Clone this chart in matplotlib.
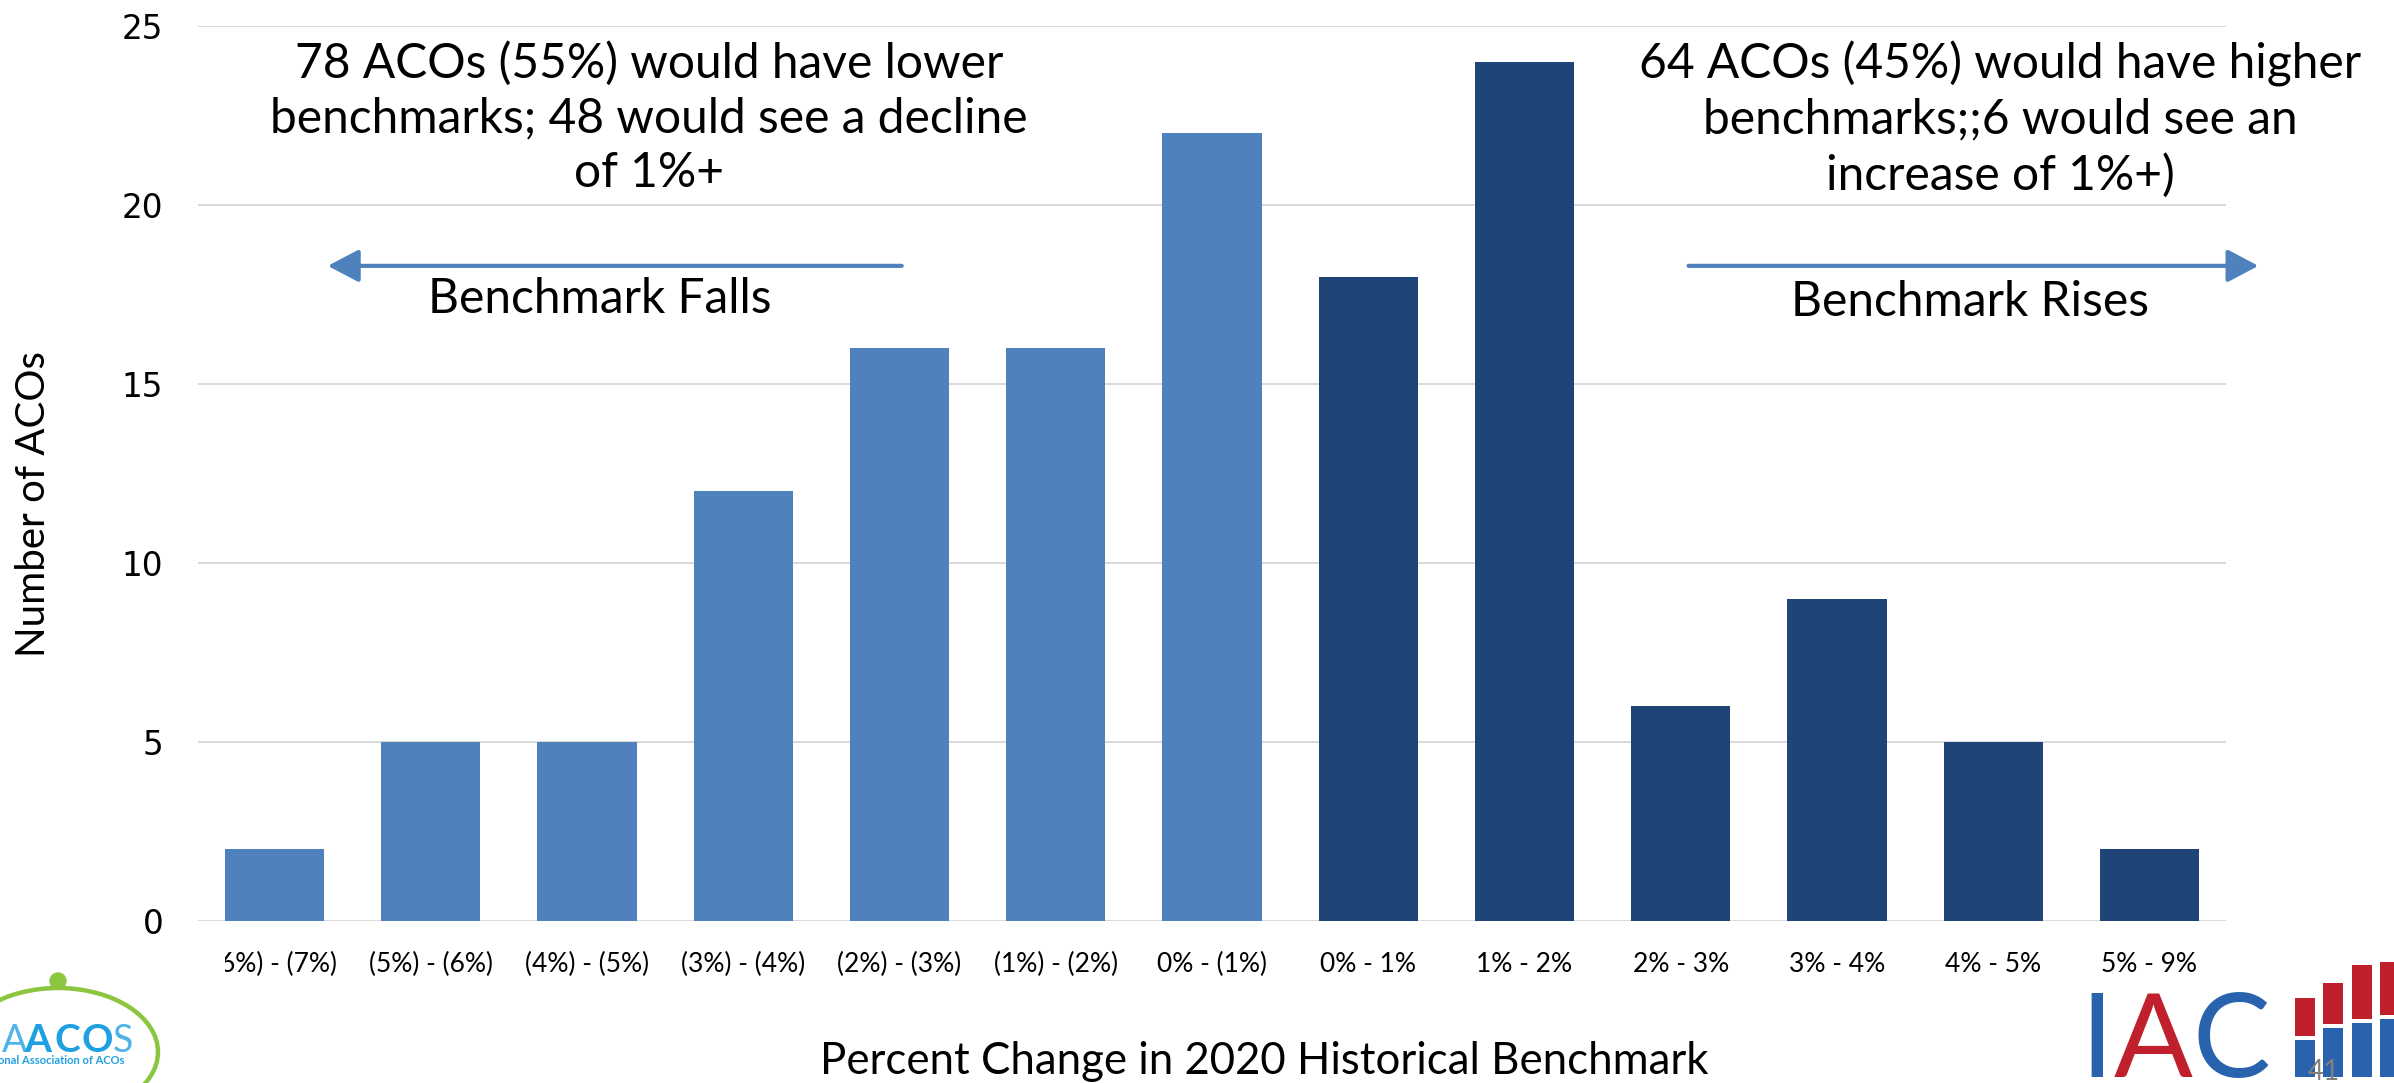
import numpy as np
import matplotlib
matplotlib.use("Agg")
import matplotlib.pyplot as plt
from matplotlib.patches import Ellipse, Circle, Rectangle
from matplotlib.transforms import Bbox, TransformedBbox

# data
categories = ["(6%) - (7%)", "(5%) - (6%)", "(4%) - (5%)", "(3%) - (4%)",
              "(2%) - (3%)", "(1%) - (2%)", "0% - (1%)", "0% - 1%",
              "1% - 2%", "2% - 3%", "3% - 4%", "4% - 5%", "5% - 9%"]
counts = [2, 5, 5, 12, 16, 16, 22, 18, 24, 6, 9, 5, 2]
n_lower = 7  # first 7 bins are benchmark declines
y_ticks = [0, 5, 10, 15, 20, 25]

note_lower = "78 ACOs (55%) would have lower\nbenchmarks; 48 would see a decline\nof 1%+"
note_higher = "64 ACOs (45%) would have higher\nbenchmarks;;6 would see an\nincrease of 1%+)"
label_falls = "Benchmark Falls"
label_rises = "Benchmark Rises"
x_title = "Percent Change in 2020 Historical Benchmark"
y_title = "Number of ACOs"

LIGHT = "#4F81BD"
DARK = "#1F4478"
FONT = ["Lato", "DejaVu Sans"]

W, H = 2394, 1083
fig = plt.figure(figsize=(W / 100, H / 100), dpi=100)
ax = fig.add_axes([198 / W, 1 - 921 / H, (2226 - 198) / W, (921 - 26) / H])

x = np.arange(len(categories))
colors = [LIGHT if i < n_lower else DARK for i in range(len(categories))]
ax.bar(x, counts, width=0.635, color=colors, zorder=2)

ax.set_xlim(-0.49, len(categories) - 0.51)
ax.set_ylim(0, 25)
ax.set_yticks(y_ticks)
ax.set_yticklabels([str(t) for t in y_ticks], family="DejaVu Sans", fontsize=23.5)
ax.set_xticks(x)
ax.set_xticklabels(categories, family=FONT, fontsize=19)
ax.tick_params(axis="both", length=0)
ax.tick_params(axis="x", pad=22)
ax.tick_params(axis="y", pad=25)
ax.yaxis.grid(True, color="#D9D9D9", lw=1.4)
ax.set_axisbelow(True)
for s in ax.spines.values():
    s.set_visible(False)

# first label is clipped on the left in the original slide
lab0 = ax.xaxis.get_major_ticks()[0].label1
lab0.set_clip_on(True)
lab0.set_clip_box(TransformedBbox(Bbox.from_extents(225 / W, 0, 1, 1), fig.transFigure))

# annotations
ax.text(0.2224, 0.897, note_lower, transform=ax.transAxes, ha="center", va="center",
        family=FONT, fontsize=34.5, linespacing=1.3)
ax.text(0.8886, 0.896, note_higher, transform=ax.transAxes, ha="center", va="center",
        family=FONT, fontsize=34.5, linespacing=1.3, clip_on=False)
ax.text(0.198, 0.695, label_falls, transform=ax.transAxes, ha="center", va="center",
        family=FONT, fontsize=34.5)
ax.text(0.874, 0.692, label_rises, transform=ax.transAxes, ha="center", va="center",
        family=FONT, fontsize=34.5)
arrow = dict(arrowstyle="-|>,head_length=0.95,head_width=0.5", color=LIGHT, lw=3,
             mutation_scale=20, shrinkA=0, shrinkB=0)
ax.annotate("", xy=(0.064, 0.732), xytext=(0.347, 0.732), xycoords="axes fraction",
            arrowprops=arrow, annotation_clip=False)
ax.annotate("", xy=(1.016, 0.732), xytext=(0.735, 0.732), xycoords="axes fraction",
            arrowprops=arrow, annotation_clip=False)

fig.text(1264 / W, 1 - 1061 / H, x_title, ha="center", va="center", family=FONT, fontsize=31.5)
fig.text(34 / W, 1 - 504 / H, y_title, ha="center", va="center", rotation=90,
         family=FONT, fontsize=29)

# overlay in pixel coords for the slide logos
ov = fig.add_axes([0, 0, 1, 1], zorder=-1)
ov.set_xlim(0, W)
ov.set_ylim(H, 0)
ov.axis("off")

# NAACOS logo (bottom left, cropped)
green = "#8CC63F"
ov.add_patch(Ellipse((58, 1052), 200, 128, fill=False, ec=green, lw=3.2))
ov.add_patch(Circle((58, 981), 8, color=green))
ov.text(2, 1052, "A", color="#4FB3E8", fontsize=27, family=FONT,
        va="baseline", ha="left")
for ch, cx in [("A", 38), ("C", 67), ("O", 97)]:
    ov.text(cx, 1052, ch, color="#1FA0E0", fontsize=28, family=FONT, fontweight="bold",
            va="baseline", ha="center")
ov.text(113, 1052, "S", color="#4FB3E8", fontsize=27, family=FONT,
        va="baseline", ha="left")
ov.text(-2, 1064, "onal Association of ACOs", color="#1FA0E0", fontsize=8, family=FONT,
        fontweight="bold", va="baseline", ha="left")

# IAC logo (bottom right)
blue_l, red_l = "#2A63AD", "#C0202B"
ov.text(2097, 1077, "I", color=blue_l, fontsize=84, family=FONT,
        ha="center", va="baseline")
ov.text(2153, 1077, "A", color=red_l, fontsize=84, family=FONT,
        ha="center", va="baseline")
ov.text(2231, 1077, "C", color=blue_l, fontsize=84, family=FONT,
        ha="center", va="baseline")
for x0, top, mid in [(2295, 998, 1036), (2323, 983, 1024), (2352, 965, 1019), (2380, 962, 1015)]:
    ov.add_patch(Rectangle((x0, top), 20, mid - top, color=red_l, lw=0))
    ov.add_patch(Rectangle((x0, mid + 4), 20, 1077 - mid - 4, color=blue_l, lw=0))
ov.text(2324, 1080, "41", color="#808080", fontsize=20, family=FONT, ha="center",
        va="baseline")

fig.savefig("out.png", dpi=100)
